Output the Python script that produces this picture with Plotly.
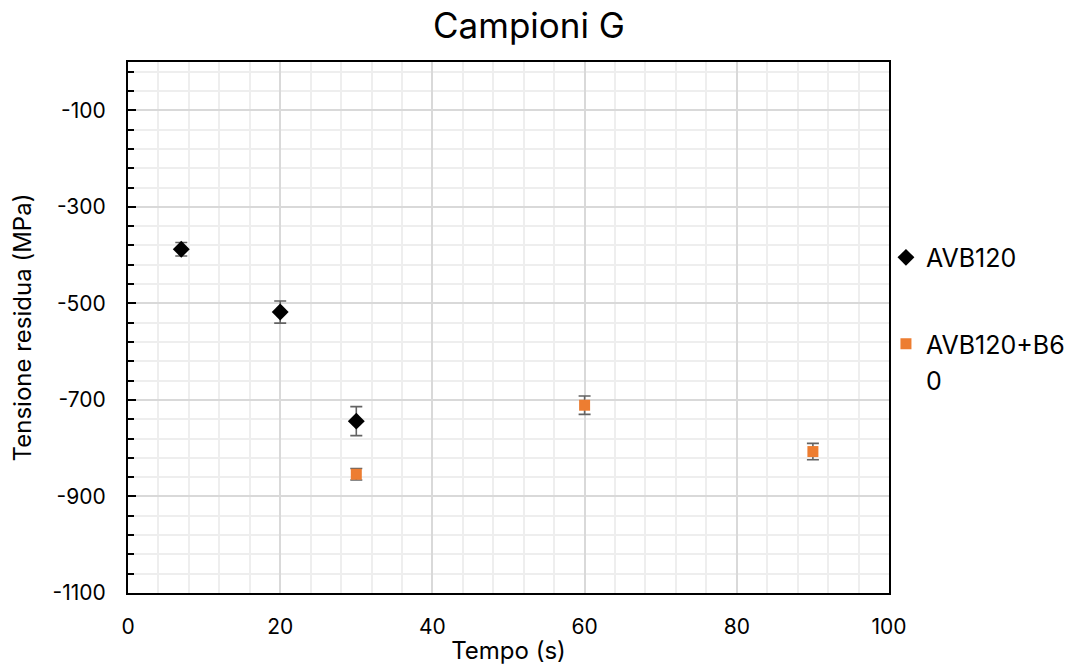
import plotly.graph_objects as go

# Data
x_avb = [7, 20, 30]
y_avb = [-388, -518, -744]
e_avb = [14, 23, 30]

x_b60 = [30, 60, 90]
y_b60 = [-854, -711, -807]
e_b60 = [12, 19, 17]

x_ticks = [0, 20, 40, 60, 80, 100]
y_ticks = [-1100, -900, -700, -500, -300, -100]
y_ticktext = ["-1100", "-900", "-700", "-500", "-300", "-100"]

FONT = "Inter"
ERR = "#636363"

fig = go.Figure()
fig.add_trace(go.Scatter(
    x=x_avb, y=y_avb, mode="markers", name="AVB120",
    marker=dict(symbol="diamond", size=13, color="black"),
    error_y=dict(type="data", array=e_avb, color=ERR, thickness=1.6, width=6),
    legendgroup="a",
))
fig.add_trace(go.Scatter(
    x=x_b60, y=y_b60, mode="markers", name="AVB120+B6",
    marker=dict(symbol="square", size=11, color="#ED7D31"),
    error_y=dict(type="data", array=e_b60, color=ERR, thickness=1.6, width=6),
    legendgroup="b",
))

fig.update_layout(
    width=1072, height=666,
    margin=dict(l=128, r=183, t=62, b=73, autoexpand=False),
    paper_bgcolor="white", plot_bgcolor="white",
    font=dict(family=FONT, color="black", size=21),
    title=dict(text="Campioni G", x=529 / 1072, xref="container", xanchor="center",
               y=0.962, yref="container", yanchor="middle",
               font=dict(size=35, family=FONT, color="black")),
    showlegend=True,
    legend=dict(x=0.996, xanchor="left", y=0.675, yanchor="top",
                font=dict(size=25, family=FONT), tracegroupgap=51,
                itemsizing="trace", bgcolor="rgba(0,0,0,0)"),
    annotations=[dict(text="0", xref="paper", yref="paper", x=(924 - 128) / 761,
                      y=(593 - 381) / 531, xanchor="left", yanchor="middle",
                      showarrow=False, font=dict(size=25, family=FONT, color="black"))],
)

fig.update_xaxes(
    range=[0, 100], tickvals=x_ticks, ticks="", automargin=False,
    showline=True, linecolor="black", linewidth=2, mirror=True,
    showgrid=True, gridcolor="#d9d9d9", gridwidth=1.5,
    minor=dict(dtick=4, tick0=0, showgrid=True, gridcolor="#eeeeee", gridwidth=1.5),
    zeroline=False, ticklabelstandoff=14,
    title=dict(text="Tempo (s)", font=dict(size=24, family=FONT), standoff=4),
)
fig.update_yaxes(
    range=[-1100, 0], tickvals=y_ticks, ticktext=y_ticktext, automargin=False,
    ticks="inside", ticklen=8, tickwidth=2, tickcolor="black",
    showline=True, linecolor="black", linewidth=2, mirror=True,
    showgrid=True, gridcolor="#d9d9d9", gridwidth=1.5,
    minor=dict(dtick=40, tick0=-1100, ticks="inside", ticklen=6, tickwidth=1.5, tickcolor="black",
               showgrid=True, gridcolor="#eeeeee", gridwidth=1.5),
    zeroline=False, ticklabelstandoff=16,
    title=dict(text="Tensione residua (MPa)", font=dict(size=24, family=FONT), standoff=14),
)

fig.write_html("out.html")
